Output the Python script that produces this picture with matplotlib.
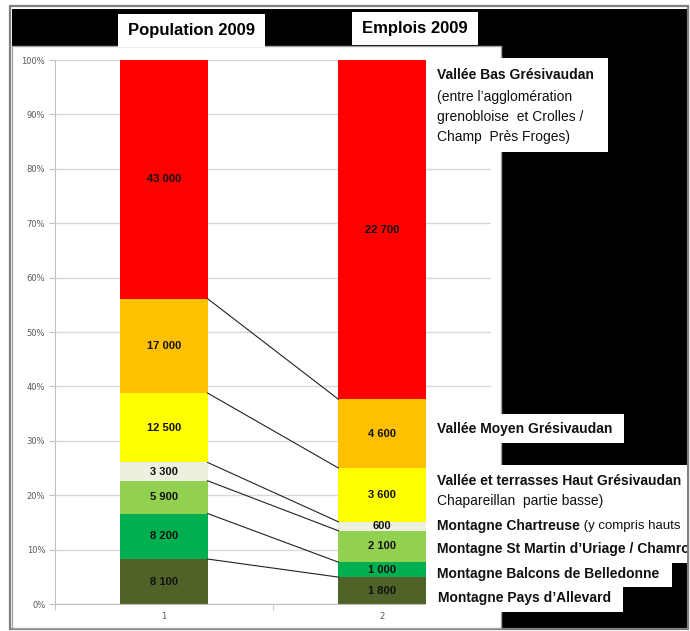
import matplotlib
matplotlib.use("Agg")
import matplotlib.pyplot as plt
from matplotlib.patches import Rectangle
import numpy as np

# ---- data ----
categories = ["1", "2"]
zones = [
    "Montagne Pays d'Allevard",
    "Montagne Balcons de Belledonne",
    "Montagne St Martin d'Uriage / Chamrousse",
    "Montagne Chartreuse",
    "Vallée et terrasses Haut Grésivaudan",
    "Vallée Moyen Grésivaudan",
    "Vallée Bas Grésivaudan",
]
population_2009 = [8100, 8200, 5900, 3300, 12500, 17000, 43000]
emplois_2009 = [1800, 1000, 2100, 600, 3600, 4600, 22700]
zone_colors = ["#4F6228", "#00B050", "#92D050", "#EBF1DE",
               "#FFFF00", "#FFC000", "#FF0000"]
column_titles = ["Population 2009", "Emplois 2009"]

NARROW = ["Liberation Sans Narrow", "Liberation Sans", "DejaVu Sans"]

W, H = 690, 631
fig = plt.figure(figsize=(W / 100, H / 100), dpi=100)
fig.patch.set_facecolor("white")

# ---- background: frame, black panel, white chart area ----
bg = fig.add_axes([0, 0, 1, 1], zorder=0)
bg.set_xlim(0, W)
bg.set_ylim(H, 0)
bg.axis("off")
bg.add_patch(Rectangle((12, 9), 675, 619, facecolor="black", edgecolor="none"))
bg.add_patch(Rectangle((10, 6), 678, 623, fill=False, edgecolor="#7F7F7F", lw=1.6))
bg.add_patch(Rectangle((12, 46), 489, 582, facecolor="white", edgecolor="#A6A6A6", lw=1))

# ---- main stacked chart ----
L, R, T, B = 55, 491, 60, 604
ax = fig.add_axes([L / W, 1 - B / H, (R - L) / W, (B - T) / H], zorder=1)
ax.set_facecolor("none")

pos = np.arange(1, len(categories) + 1)
bar_w = 0.4
series = np.array([population_2009, emplois_2009], dtype=float)  # shape (2, 7)
shares = series / series.sum(axis=1, keepdims=True)
bottoms = np.zeros(len(categories))
tops = []
for k in range(len(zones)):
    h = shares[:, k]
    ax.bar(pos, h, bar_w, bottom=bottoms, color=zone_colors[k], edgecolor="none", zorder=2)
    for i in range(len(categories)):
        txt = f"{int(series[i, k]):,}".replace(",", " ")
        ax.text(pos[i], bottoms[i] + h[i] / 2, txt, ha="center", va="center",
                fontsize=8, fontweight="bold", family=NARROW, color="#111111", zorder=4)
    bottoms = bottoms + h
    tops.append(bottoms.copy())

# series lines joining segment tops
for k in range(len(zones) - 1):
    ax.plot([pos[0] + bar_w / 2, pos[1] - bar_w / 2], [tops[k][0], tops[k][1]],
            color="#222222", lw=0.8, zorder=3)

ax.set_xlim(0.5, 2.5)
ax.set_ylim(0, 1)
yt = np.linspace(0, 1, 11)
ax.set_yticks(yt)
ax.set_yticklabels([f"{int(round(v * 100))}%" for v in yt])
ax.set_xticks(pos)
ax.set_xticklabels(categories)
ax.set_xticks([0.5, 1.5, 2.5], minor=True)
ax.tick_params(axis="x", which="major", length=0, pad=6, labelsize=6, labelcolor="#595959")
ax.tick_params(axis="x", which="minor", length=4, color="#BFBFBF", direction="out")
ax.tick_params(axis="y", length=4, color="#BFBFBF", labelsize=6, labelcolor="#595959", pad=3)
for lab in ax.get_yticklabels() + ax.get_xticklabels():
    lab.set_family("DejaVu Sans")
ax.grid(axis="y", color="#D9D9D9", lw=1, zorder=0)
ax.set_axisbelow(True)
for s in ("top", "right"):
    ax.spines[s].set_visible(False)
ax.spines["left"].set_color("#BFBFBF")
ax.spines["bottom"].set_color("#BFBFBF")

# ---- overlay: titles and zone captions ----
ov = fig.add_axes([0, 0, 687 / W, 1], zorder=2)
ov.set_xlim(0, 687)
ov.set_ylim(H, 0)
ov.axis("off")
ov.set_facecolor("none")

ov.add_patch(Rectangle((118, 14), 147, 33, facecolor="white", edgecolor="none"))
ov.add_patch(Rectangle((352, 12), 126, 33, facecolor="white", edgecolor="none"))
ov.text(191, 31, column_titles[0], ha="center", va="center", fontsize=12,
        fontweight="bold", family=NARROW, color="black")
ov.text(415, 28, column_titles[1], ha="center", va="center", fontsize=12,
        fontweight="bold", family=NARROW, color="black")

# caption boxes (x0, y0, x1, y1)
for x0, y0, x1, y1 in [(426, 58, 608, 152), (426, 414, 624, 443),
                       (426, 465, 687, 563), (426, 563, 672, 587),
                       (426, 587, 623, 612)]:
    ov.add_patch(Rectangle((x0, y0), x1 - x0, y1 - y0, facecolor="white", edgecolor="none"))

FS = 10
tx = 437

def caption(y, s, bold=True, x=tx):
    return ov.text(x, y, s, ha="left", va="center", fontsize=FS,
                   fontweight="bold" if bold else "normal", family=NARROW,
                   color="#111111", clip_on=True)

caption(75, "Vallée Bas Grésivaudan")
caption(97, "(entre l’agglomération", bold=False)
caption(117, "grenobloise  et Crolles /", bold=False)
caption(137, "Champ  Près Froges)", bold=False)
caption(429, "Vallée Moyen Grésivaudan")
caption(481, "Vallée et terrasses Haut Grésivaudan")
caption(501, "Chapareillan  partie basse)", bold=False)
t_ch = caption(526, "Montagne Chartreuse")
ov.annotate(" (y compris hauts", xy=(1, 0.5), xycoords=t_ch, ha="left", va="center",
            fontsize=FS - 0.5, family=NARROW, color="#111111", annotation_clip=False,
            clip_on=True)
caption(549, "Montagne St Martin d’Uriage / Chamro")
caption(574, "Montagne Balcons de Belledonne")
caption(598, "Montagne Pays d’Allevard", x=438)

fig.savefig("out.png", dpi=100, facecolor="white")
